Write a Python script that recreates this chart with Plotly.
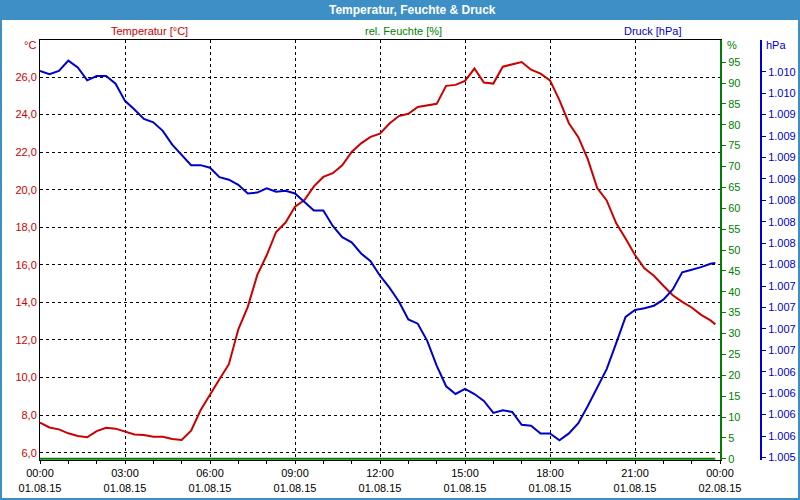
import pandas as pd
import plotly.graph_objects as go

# 20-minute readings, last one at 23:50
times = list(pd.date_range("2015-08-01 00:00", periods=72, freq="20min")) + [pd.Timestamp("2015-08-01 23:50")]

temperature = [
    7.60, 7.34, 7.24, 7.03, 6.89, 6.82, 7.15, 7.33, 7.28, 7.11, 6.97, 6.94,
    6.85, 6.85, 6.73, 6.68, 7.17, 8.26, 9.05, 9.91, 10.71, 12.57, 13.76, 15.45,
    16.51, 17.75, 18.25, 19.09, 19.45, 20.18, 20.68, 20.88, 21.30, 22.01, 22.47, 22.81,
    22.98, 23.52, 23.92, 24.04, 24.40, 24.49, 24.57, 25.53, 25.58, 25.79, 26.45, 25.71,
    25.65, 26.55, 26.67, 26.80, 26.39, 26.18, 25.82, 24.77, 23.54, 22.80, 21.63, 20.09,
    19.43, 18.22, 17.40, 16.52, 15.82, 15.42, 14.89, 14.38, 14.03, 13.73, 13.34, 13.04,
    12.83,
]

pressure = [
    1009.76, 1009.72, 1009.76, 1009.88, 1009.80, 1009.65, 1009.70, 1009.70, 1009.61, 1009.41, 1009.31, 1009.20,
    1009.16, 1009.06, 1008.90, 1008.78, 1008.66, 1008.66, 1008.63, 1008.52, 1008.49, 1008.43, 1008.33, 1008.34,
    1008.39, 1008.35, 1008.36, 1008.33, 1008.23, 1008.13, 1008.13, 1007.95, 1007.82, 1007.76, 1007.63, 1007.54,
    1007.37, 1007.23, 1007.07, 1006.86, 1006.81, 1006.61, 1006.32, 1006.08, 1005.99, 1006.05, 1005.99, 1005.91,
    1005.77, 1005.80, 1005.78, 1005.63, 1005.62, 1005.53, 1005.53, 1005.45, 1005.53, 1005.65, 1005.85, 1006.06,
    1006.28, 1006.58, 1006.89, 1006.97, 1006.99, 1007.02, 1007.09, 1007.21, 1007.41, 1007.44, 1007.47, 1007.51,
    1007.52,
]

humidity = [0] * len(times)

x_tick_vals = list(pd.date_range("2015-08-01 00:00", "2015-08-02 00:00", freq="3h"))
x_tick_labels = [
    "00:00<br>01.08.15", "03:00<br>01.08.15", "06:00<br>01.08.15", "09:00<br>01.08.15",
    "12:00<br>01.08.15", "15:00<br>01.08.15", "18:00<br>01.08.15", "21:00<br>01.08.15",
    "00:00<br>02.08.15",
]
temp_ticks = [6, 8, 10, 12, 14, 16, 18, 20, 22, 24, 26]
hum_ticks = [0, 5, 10, 15, 20, 25, 30, 35, 40, 45, 50, 55, 60, 65, 70, 75, 80, 85, 90, 95]
press_ticks = [1005.25 + 0.25 * i for i in range(19)]
press_labels = [
    "1.005", "1.006", "1.006", "1.006", "1.006", "1.007", "1.007", "1.007", "1.007",
    "1.008", "1.008", "1.008", "1.008", "1.009", "1.009", "1.009", "1.009", "1.010", "1.010",
]

RED = "#cc0000"
GREEN = "#007f00"
BLUE = "#0000cc"
BAR = "#3d8fc6"
FONT = "Liberation Sans"

fig = go.Figure()
fig.add_trace(go.Scatter(x=times, y=temperature, mode="lines", line=dict(color=RED, width=2), yaxis="y"))
fig.add_trace(go.Scatter(x=times, y=humidity, mode="lines", line=dict(color=GREEN, width=2), yaxis="y2"))
fig.add_trace(go.Scatter(x=times, y=pressure, mode="lines", line=dict(color=BLUE, width=2), yaxis="y3"))

x_end = 680 / 760
fig.update_layout(
    width=800, height=500,
    margin=dict(l=40, r=0, t=40, b=40, autoexpand=False),
    paper_bgcolor="white", plot_bgcolor="white",
    showlegend=False,
    font=dict(family=FONT, size=11, color="black"),
    xaxis=dict(
        domain=[0, x_end],
        range=["2015-08-01 00:00", "2015-08-02 00:00"],
        tickmode="array", tickvals=x_tick_vals, ticktext=x_tick_labels,
        ticks="outside", ticklen=3, tickcolor="black",
        minor=dict(ticks="outside", ticklen=3, dtick=3600000, tickcolor="black", showgrid=False),
        showgrid=True, gridcolor="black", griddash="3px,3px", gridwidth=1,
        showline=True, linecolor="black", linewidth=1, mirror=True,
        zeroline=False, automargin=False,
    ),
    yaxis=dict(
        range=[5.61, 27.97],
        tickmode="array", tickvals=temp_ticks, tickformat=".1f",
        tickfont=dict(color=RED),
        showgrid=True, gridcolor="black", griddash="3px,3px", gridwidth=1,
        showline=True, linecolor="black", linewidth=1,
        zeroline=False, ticks="", automargin=False,
    ),
    yaxis2=dict(
        range=[-0.3, 100.3], overlaying="y", side="right", anchor="x",
        tickmode="array", tickvals=hum_ticks,
        tickfont=dict(color=GREEN),
        ticks="outside", ticklen=4, tickcolor=GREEN,
        showgrid=False, zeroline=False,
        showline=True, linecolor=GREEN, linewidth=2, automargin=False,
    ),
    yaxis3=dict(
        range=[1005.22, 1010.12], overlaying="y", side="right", anchor="free",
        position=721 / 760,
        tickmode="array", tickvals=press_ticks, ticktext=press_labels,
        tickfont=dict(color=BLUE),
        ticks="outside", ticklen=4, tickcolor=BLUE,
        showgrid=False, zeroline=False,
        showline=True, linecolor=BLUE, linewidth=2, automargin=False,
    ),
    separators=",.",
)

fig.add_shape(type="rect", xref="paper", yref="paper",
              x0=-40 / 760, x1=1.0, y0=440 / 420, y1=460 / 420,
              fillcolor=BAR, line=dict(width=0), layer="above")
fig.add_shape(type="rect", xref="paper", yref="paper",
              x0=-39 / 760, x1=759 / 760, y0=-39 / 420, y1=460 / 420,
              line=dict(color=BAR, width=2), fillcolor="rgba(0,0,0,0)")


def label(text, px, py, color, xanchor="center", size=11, family=FONT):
    # px, py are positions in window pixels
    fig.add_annotation(text=text, xref="paper", yref="paper",
                       x=(px - 40) / 760, y=(460 - py) / 420,
                       xanchor=xanchor, yanchor="middle", showarrow=False,
                       font=dict(color=color, size=size, family=family))


label("<b>Temperatur, Feuchte & Druck</b>", 412, 10, "white", size=12)
label("Temperatur [°C]", 149, 31, RED)
label("rel. Feuchte [%]", 403, 31, GREEN)
label("Druck [hPa]", 652, 31, BLUE)
label("°C", 38, 45, RED, xanchor="right")
label("%", 725, 45, GREEN, xanchor="left")
label("hPa", 764, 45, BLUE, xanchor="left")

# the page has a default body margin; drop it so the 800x500 figure fills the window
fig.write_html("out.html", config={"displayModeBar": False},
               post_script="document.body.style.margin='0';")
